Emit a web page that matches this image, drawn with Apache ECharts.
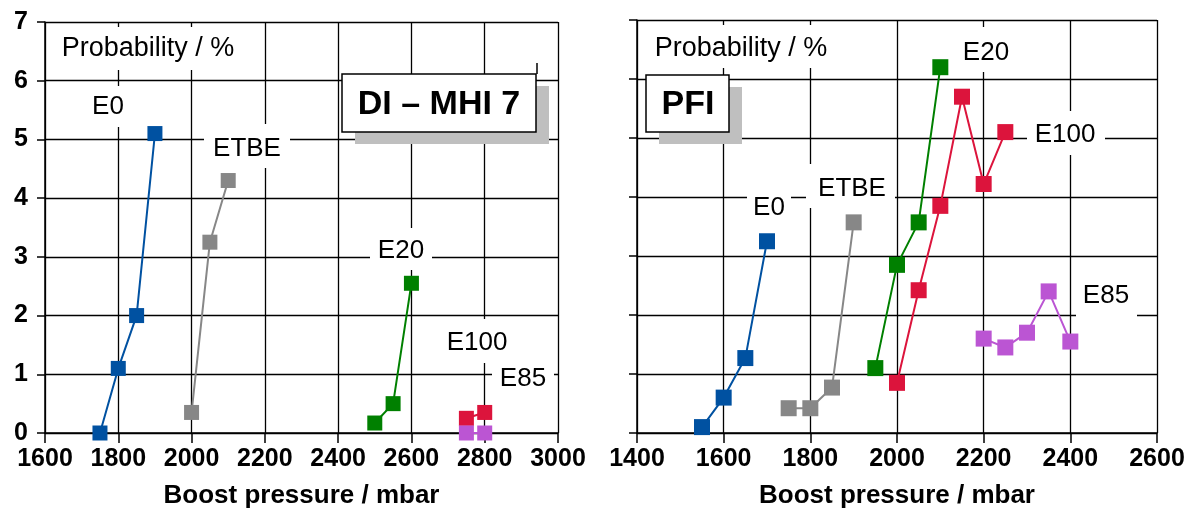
<!DOCTYPE html>
<html>
<head>
<meta charset="utf-8">
<script src="https://cdn.jsdelivr.net/npm/echarts@6/dist/echarts.min.js"></script>
<style>
  html, body { margin: 0; padding: 0; background: #fff; }
  #chart { width: 1195px; height: 515px; }
</style>
</head>
<body>
<div id="chart"></div>
<script>
// ---- DI (MHI 7) engine: knock probability vs boost pressure ----
const diE0X   = [1750, 1800, 1850, 1900];
const diE0Y   = [0.0, 1.1, 2.0, 5.1];
const diEtbeX = [2000, 2050, 2100];
const diEtbeY = [0.35, 3.25, 4.3];
const diE20X  = [2500, 2550, 2600];
const diE20Y  = [0.17, 0.5, 2.55];
const diE100X = [2750, 2800];
const diE100Y = [0.25, 0.35];
const diE85X  = [2750, 2800];
const diE85Y  = [0.0, 0.0];

// ---- PFI engine ----
const pfiE0X   = [1550, 1600, 1650, 1700];
const pfiE0Y   = [0.1, 0.6, 1.27, 3.25];
const pfiEtbeX = [1750, 1800, 1850, 1900];
const pfiEtbeY = [0.42, 0.42, 0.77, 3.57];
const pfiE20X  = [1950, 2000, 2050, 2100];
const pfiE20Y  = [1.1, 2.85, 3.57, 6.2];
const pfiE100X = [2000, 2050, 2100, 2150, 2200, 2250];
const pfiE100Y = [0.85, 2.42, 3.85, 5.7, 4.22, 5.1];
const pfiE85X  = [2200, 2250, 2300, 2350, 2400];
const pfiE85Y  = [1.6, 1.45, 1.7, 2.4, 1.55];

// axis ranges and texts
const diXRange  = [1600, 3000];
const pfiXRange = [1400, 2600];
const yRange    = [0, 7];
const xStep = 200;
const yStep = 1;
const xTitle = 'Boost pressure / mbar';
const yTitle = 'Probability / %';
const fuelNames = ['E0', 'ETBE', 'E20', 'E100', 'E85'];
const panelTitles = ['DI – MHI 7', 'PFI'];

const COLORS = {
  E0: '#0051a1',
  ETBE: '#878787',
  E20: '#008000',
  E100: '#dc143c',
  E85: '#bb55d3'
};
const FONT = '"Liberation Sans", Arial, sans-serif';
const MARKER = [15, 16];

const zip = (xs, ys) => xs.map((x, i) => [x, ys[i]]);

function lineSeries(name, xs, ys, panel) {
  return {
    type: 'line',
    name: name,
    xAxisIndex: panel,
    yAxisIndex: panel,
    data: zip(xs, ys),
    symbol: 'rect',
    symbolSize: MARKER[panel],
    clip: false,
    lineStyle: { color: COLORS[name], width: 2 },
    itemStyle: { color: COLORS[name] },
    emphasis: { disabled: true },
    z: 3
  };
}

const series = [
  lineSeries('E0',   diE0X,   diE0Y,   0),
  lineSeries('ETBE', diEtbeX, diEtbeY, 0),
  lineSeries('E20',  diE20X,  diE20Y,  0),
  lineSeries('E100', diE100X, diE100Y, 0),
  lineSeries('E85',  diE85X,  diE85Y,  0),
  lineSeries('E0',   pfiE0X,   pfiE0Y,   1),
  lineSeries('ETBE', pfiEtbeX, pfiEtbeY, 1),
  lineSeries('E20',  pfiE20X,  pfiE20Y,  1),
  lineSeries('E100', pfiE100X, pfiE100Y, 1),
  lineSeries('E85',  pfiE85X,  pfiE85Y,  1)
];

function xAxis(range, grid) {
  return {
    type: 'value', gridIndex: grid,
    min: range[0], max: range[1], interval: xStep,
    name: xTitle, nameLocation: 'middle', nameGap: 50,
    nameTextStyle: { color: '#000', fontFamily: FONT, fontSize: 26, fontWeight: 'bold' },
    axisLine: { show: true, lineStyle: { color: '#000', width: 1.5 } },
    axisTick: { show: true, inside: false, length: 10, lineStyle: { color: '#000', width: 1.5 } },
    axisLabel: { color: '#000', fontFamily: FONT, fontSize: 25, fontWeight: 'bold', margin: 14,
                 formatter: v => String(v) },
    splitLine: { show: true, lineStyle: { color: '#000', width: 1.3 } }
  };
}

function yAxis(grid, showLabels) {
  return {
    type: 'value', gridIndex: grid,
    min: yRange[0], max: yRange[1], interval: yStep,
    axisLine: { show: true, lineStyle: { color: '#000', width: 1.5 } },
    axisTick: { show: true, inside: false, length: 8, lineStyle: { color: '#000', width: 1.5 } },
    axisLabel: { show: showLabels, color: '#000', fontFamily: FONT, fontSize: 25, fontWeight: 'bold', margin: 17 },
    splitLine: { show: true, lineStyle: { color: '#000', width: 1.3 } }
  };
}

// White-backed annotation: a white patch hides the grid behind the text
function note(text, cx, cy, box, opts) {
  opts = opts || {};
  return [
    { type: 'rect', z: 1, silent: true,
      shape: { x: box[0], y: box[1], width: box[2] - box[0], height: box[3] - box[1] },
      style: { fill: '#fff' } },
    { type: 'text', z: 2, silent: true, x: cx, y: cy,
      style: { text: text, fill: '#000', font: (opts.weight || 'normal') + ' ' + (opts.size || 26) + 'px ' + FONT,
               textAlign: 'center', textVerticalAlign: 'middle' } }
  ];
}

// Framed title with a grey drop shadow
function titleBox(text, box, cx, cy) {
  return [
    { type: 'rect', z: 1, silent: true,
      shape: { x: box[0] + 13, y: box[1] + 12, width: box[2] - box[0], height: box[3] - box[1] },
      style: { fill: '#bfbfbf' } },
    { type: 'rect', z: 1, silent: true,
      shape: { x: box[0], y: box[1], width: box[2] - box[0], height: box[3] - box[1] },
      style: { fill: '#fff', stroke: '#000', lineWidth: 1.5 } },
    { type: 'text', z: 2, silent: true, x: cx, y: cy,
      style: { text: text, fill: '#000', font: 'bold 34px ' + FONT,
               textAlign: 'center', textVerticalAlign: 'middle' } }
  ];
}

const graphics = [].concat(
  note(yTitle, 148, 49, [48, 27, 250, 70], { size: 27 }),
  note(yTitle, 741, 49, [640, 25, 842, 68], { size: 27 }),
  titleBox(panelTitles[0], [342, 74, 536, 132], 439, 105),
  titleBox(panelTitles[1], [646, 75, 729, 132], 688, 105),
  note(fuelNames[0], 108, 107, [88, 86, 130, 127]),
  note(fuelNames[1], 247, 149, [204, 124, 290, 168]),
  note(fuelNames[2], 401, 251, [370, 228, 432, 270]),
  note(fuelNames[3], 477, 343, [438, 319, 517, 363]),
  note(fuelNames[4], 523, 379, [492, 364, 554, 393]),
  note(fuelNames[0], 769, 208, [747, 186, 791, 228]),
  note(fuelNames[1], 852, 189, [806, 164, 895, 208]),
  note(fuelNames[2], 986, 53, [958, 27, 1015, 72]),
  note(fuelNames[3], 1065, 135, [1027, 111, 1105, 155]),
  note(fuelNames[4], 1106, 296, [1076, 266, 1137, 320]),
  [{ type: 'line', z: 2, silent: true, shape: { x1: 537, y1: 63, x2: 537, y2: 74 },
     style: { stroke: '#000', lineWidth: 1.5 } }]
);

const chart = echarts.init(document.getElementById('chart'), null, { renderer: 'canvas' });
chart.setOption({
  animation: false,
  backgroundColor: '#fff',
  grid: [
    { left: 45, top: 22, width: 513, height: 411 },
    { left: 637, top: 20, width: 520, height: 413 }
  ],
  xAxis: [xAxis(diXRange, 0), xAxis(pfiXRange, 1)],
  yAxis: [yAxis(0, true), yAxis(1, false)],
  series: series,
  graphic: { elements: graphics }
});
</script>
</body>
</html>
